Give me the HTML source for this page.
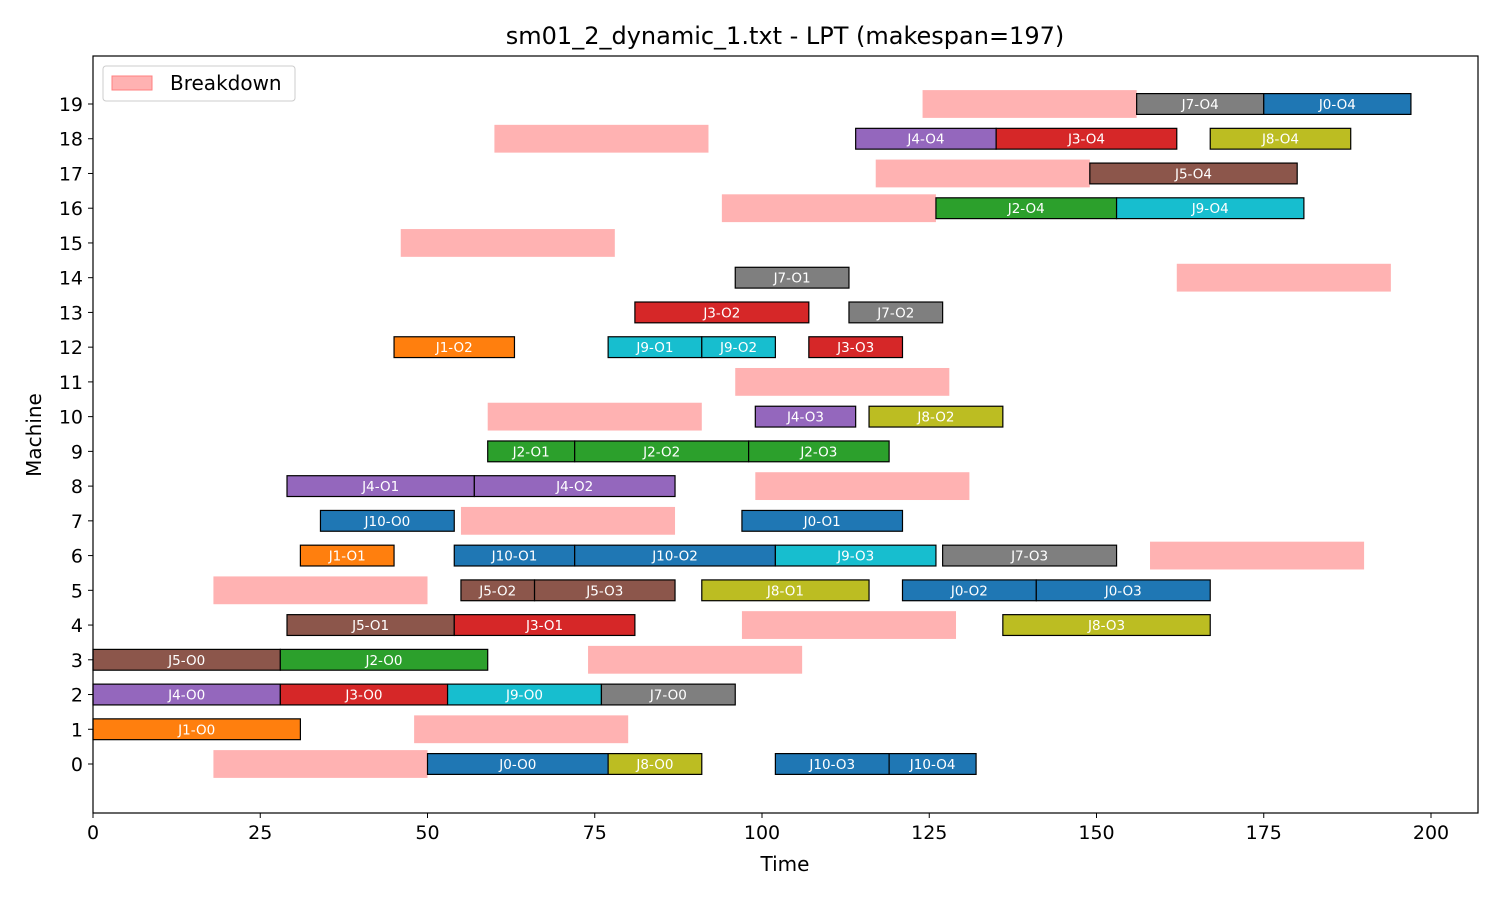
<!DOCTYPE html>
<html><head><meta charset="utf-8"><style>
body{margin:0;background:#fff;}
svg{display:block;font-family:"DejaVu Sans","Liberation Sans",sans-serif;}
</style></head><body>
<svg id="chart" width="1500" height="900">
<text x="785" y="44" font-size="24" text-anchor="middle">sm01_2_dynamic_1.txt - LPT (makespan=197)</text>
<g id="marks"></g>
<rect x="93" y="56" width="1385" height="757" fill="none" stroke="#000" stroke-width="1.2"/>
<g id="axes"></g>
<text x="785" y="871" font-size="20" text-anchor="middle">Time</text>
<text x="41" y="435" font-size="20" text-anchor="middle" transform="rotate(-90 41 435)">Machine</text>
<g>
<rect x="103" y="66" width="192" height="35" rx="3" fill="#fff" stroke="#ccc"/>
<rect x="112" y="76" width="40" height="14" fill="#ffb2b2" stroke="#ff8080"/>
<text x="170" y="90" font-size="20">Breakdown</text>
</g>
</svg>
<script>
const taskMachines=[0,0,0,0,1,2,2,2,2,3,3,4,4,4,5,5,5,5,5,6,6,6,6,6,7,7,8,8,9,9,9,10,10,12,12,12,12,13,13,14,16,16,17,18,18,18,19,19];
const taskLabels=["J0-O0","J8-O0","J10-O3","J10-O4","J1-O0","J4-O0","J3-O0","J9-O0","J7-O0","J5-O0","J2-O0","J5-O1","J3-O1","J8-O3","J5-O2","J5-O3","J8-O1","J0-O2","J0-O3","J1-O1","J10-O1","J10-O2","J9-O3","J7-O3","J10-O0","J0-O1","J4-O1","J4-O2","J2-O1","J2-O2","J2-O3","J4-O3","J8-O2","J1-O2","J9-O1","J9-O2","J3-O3","J3-O2","J7-O2","J7-O1","J2-O4","J9-O4","J5-O4","J4-O4","J3-O4","J8-O4","J7-O4","J0-O4"];
const taskStarts=[50,77,102,119,0,0,28,53,76,0,28,29,54,136,55,66,91,121,141,31,54,72,102,127,34,97,29,57,59,72,98,99,116,45,77,91,107,81,113,96,126,153,149,114,135,167,156,175];
const taskEnds=[77,91,119,132,31,28,53,76,96,28,59,54,81,167,66,87,116,141,167,45,72,102,126,153,54,121,57,87,72,98,119,114,136,63,91,102,121,107,127,113,153,181,180,135,162,188,175,197];
const bdMachines=[0,1,3,4,5,6,7,8,10,11,14,15,16,17,18,19];
const bdStarts=[18,48,74,97,18,158,55,99,59,96,162,46,94,117,60,124];
const bdEnds=[50,80,106,129,50,190,87,131,91,128,194,78,126,149,92,156];
const xTicks=[0,25,50,75,100,125,150,175,200];
const yTicks=[0,1,2,3,4,5,6,7,8,9,10,11,12,13,14,15,16,17,18,19];
const palette=["#1f77b4","#ff7f0e","#2ca02c","#d62728","#9467bd","#8c564b","#e377c2","#7f7f7f","#bcbd22","#17becf"];
const NS="http://www.w3.org/2000/svg";
const X=t=>93+t*1338/200;
const Y=m=>764-m*(660/19);
const marks=document.getElementById('marks'),axes=document.getElementById('axes');
function mk(tag,attrs,parent){const e=document.createElementNS(NS,tag);for(const k in attrs)e.setAttribute(k,attrs[k]);parent.appendChild(e);return e;}
bdMachines.forEach((m,i)=>{
  const r=mk('rect',{x:X(bdStarts[i]),y:Y(m)-13.9,width:X(bdEnds[i])-X(bdStarts[i]),height:27.8,fill:'#ffb2b2'},marks);
  
  
});
taskMachines.forEach((m,i)=>{
  const job=parseInt(taskLabels[i].slice(1));
  const r=mk('rect',{x:X(taskStarts[i]),y:Y(m)-10.4,width:X(taskEnds[i])-X(taskStarts[i]),height:20.8,fill:palette[job%10],stroke:'#000','stroke-width':1.2},marks);
  
  
  const t=mk('text',{x:(X(taskStarts[i])+X(taskEnds[i]))/2,y:Y(m)+5,'font-size':13.5,fill:'#fff','text-anchor':'middle'},marks);
  t.textContent=taskLabels[i];
  
  
});
xTicks.forEach(v=>{
  mk('line',{x1:X(v),x2:X(v),y1:813,y2:818,stroke:'#000'},axes);
  const t=mk('text',{x:X(v),y:839,'font-size':19,'text-anchor':'middle'},axes);
  t.textContent=v;
  
  
});
yTicks.forEach(v=>{
  mk('line',{x1:88,x2:93,y1:Y(v),y2:Y(v),stroke:'#000'},axes);
  const t=mk('text',{x:83,y:Y(v)+7,'font-size':19,'text-anchor':'end'},axes);
  t.textContent=v;
  
  
});
</script>
</body></html>
